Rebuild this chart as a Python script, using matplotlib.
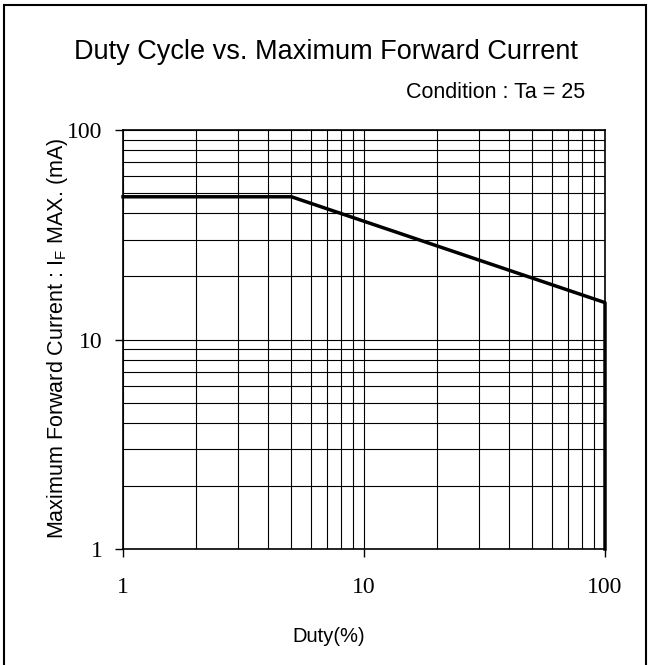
import matplotlib
matplotlib.use("Agg")
import matplotlib.pyplot as plt
from matplotlib.patches import Rectangle
from matplotlib.ticker import LogLocator, NullFormatter, FixedLocator

duty = [1, 5, 100, 100]
if_max = [48, 48, 15, 1]
x_ticks = [1, 10, 100]
x_tick_labels = ["1", "10", "100"]
y_ticks = [1, 10, 100]
y_tick_labels = ["1", "10", "100"]

W, H = 649, 665
fig = plt.figure(figsize=(W / 100, H / 100), dpi=100)
fig.patch.set_facecolor("white")

left, right, top, bottom = 123, 605, 130, 549
aw, ah = right - left, bottom - top
ax = fig.add_axes([left / W, 1 - bottom / H, aw / W, ah / H])
ax.set_xscale("log")
ax.set_yscale("log")
ax.set_xlim(1, 100)
ax.set_ylim(1, 100)

ax.xaxis.set_major_locator(FixedLocator(x_ticks))
ax.yaxis.set_major_locator(FixedLocator(y_ticks))
ax.set_xticklabels(x_tick_labels, family="Liberation Serif", fontsize=17)
ax.set_yticklabels(y_tick_labels, family="Liberation Serif", fontsize=17)
ax.xaxis.set_minor_locator(LogLocator(base=10, subs=range(2, 10)))
ax.yaxis.set_minor_locator(LogLocator(base=10, subs=range(2, 10)))
ax.xaxis.set_minor_formatter(NullFormatter())
ax.yaxis.set_minor_formatter(NullFormatter())
ax.tick_params(which="major", direction="out", length=6, width=1, color="black")
ax.tick_params(which="minor", length=0)
ax.tick_params(axis="x", pad=14)
ax.tick_params(axis="y", pad=8.6)

ax.grid(True, which="both", color="black", linewidth=0.8)
for s in ax.spines.values():
    s.set_color("black")
    s.set_linewidth(1.2)

ax.plot(duty, if_max, color="black", linewidth=2.5, clip_on=False, zorder=5)

ax.set_xlabel("Duty(%)", family="Liberation Sans", fontsize=14.5, va="center")
ax.xaxis.set_label_coords((329 - left) / aw, (bottom - 637) / ah)
ax.set_ylabel("Maximum Forward Current : I$_{\\mathregular{F}}$ MAX. (mA)",
              family="Liberation Sans", fontsize=15.5, va="center")
ax.yaxis.set_label_coords((58 - left) / aw, (bottom - 338) / ah)

fig.text(326 / W, 1 - 52 / H, "Duty Cycle vs. Maximum Forward Current",
         family="Liberation Sans", fontsize=19.5, ha="center", va="center")
fig.text(585 / W, 1 - 92 / H, "Condition : Ta = 25",
         family="Liberation Sans", fontsize=15.5, ha="right", va="center")

fig.patches.append(Rectangle((4 / W, -0.01), 642 / W, 1.01 - 5 / H, transform=fig.transFigure,
                             fill=False, edgecolor="black", linewidth=1.5))

fig.savefig("out.png", dpi=100)
